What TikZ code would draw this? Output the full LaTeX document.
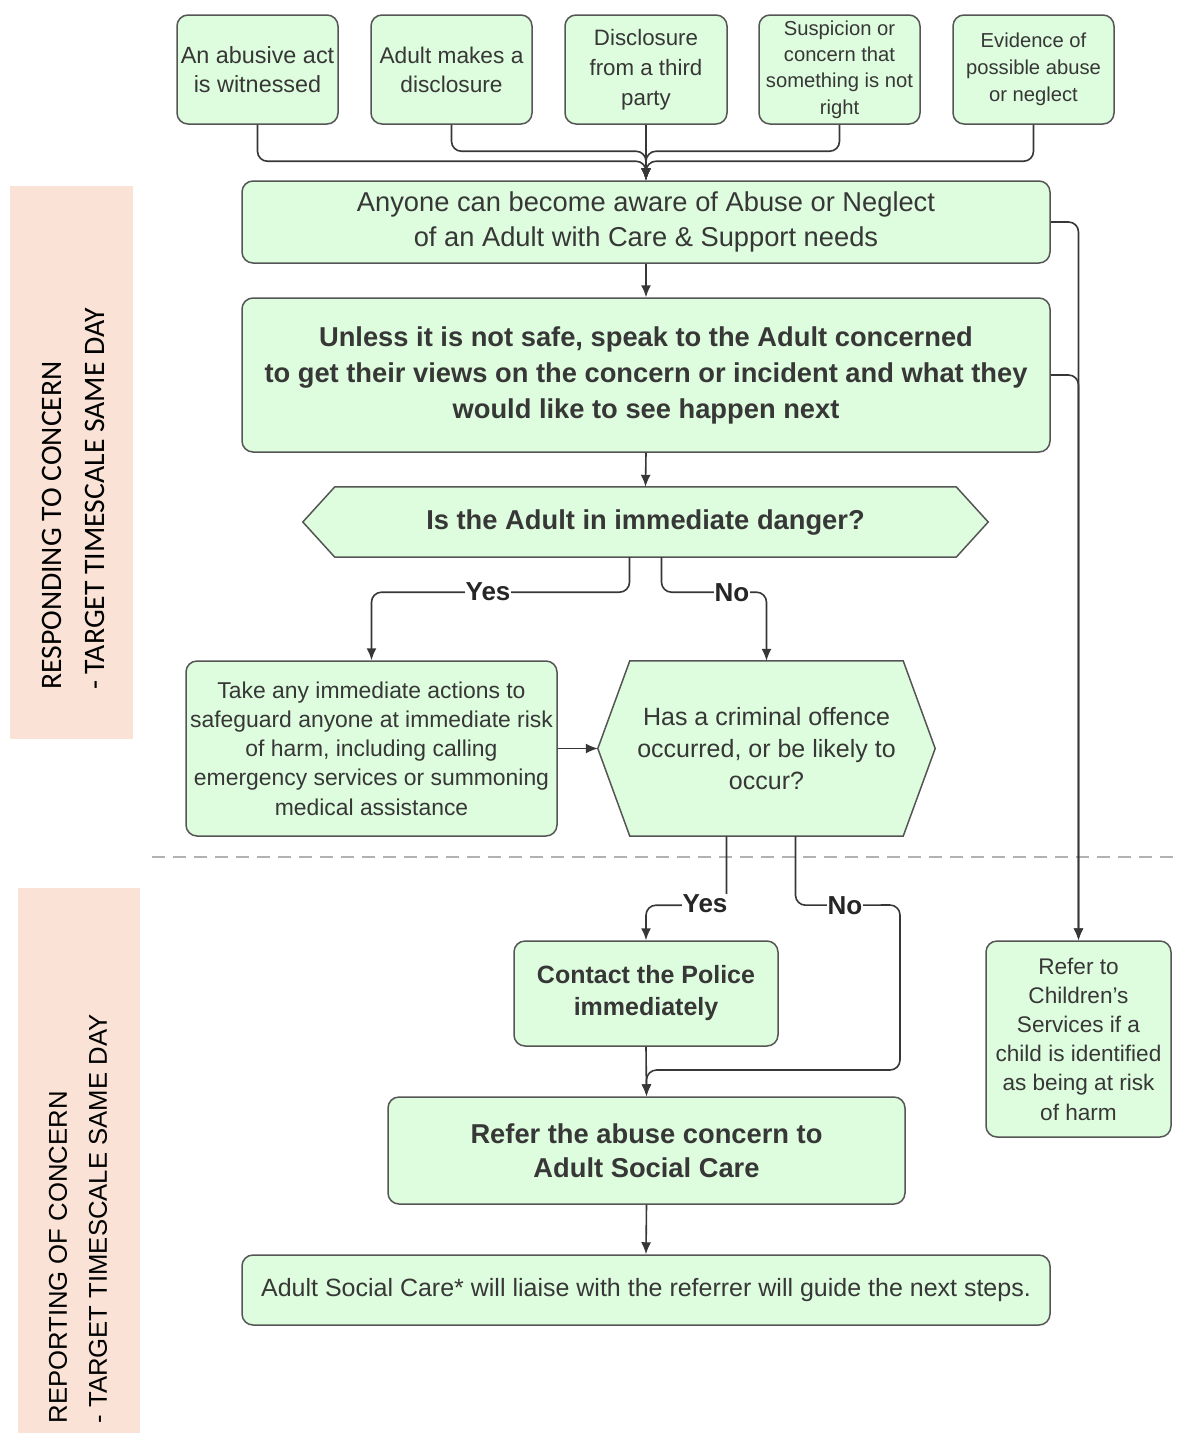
\documentclass[tikz,border=0pt]{standalone}
\usepackage{fontspec}
\setmainfont{Liberation Sans}
\newfontfamily\bandfontA{Carlito}
\usetikzlibrary{arrows.meta,backgrounds,calc}
\newcommand\myfs[2]{\fontsize{#1}{#2}\selectfont}
\definecolor{boxfill}{RGB}{222,252,222}
\definecolor{boxline}{RGB}{85,85,85}
\definecolor{conncol}{RGB}{55,55,55}
\definecolor{bandcol}{RGB}{250,227,214}
\definecolor{txtcol}{RGB}{55,55,55}
\tikzset{
  box/.style={draw=boxline, fill=boxfill, line width=1.5pt, rounded corners=11pt,
    align=center, inner sep=0pt, text=txtcol},
  hexbox/.style={draw=none, align=center, inner sep=0pt, text=txtcol},
  hexshape/.style={draw=boxline, fill=boxfill, line width=1.5pt},
  conn/.style={draw=conncol, line width=1.6pt, rounded corners=10pt},
  arr/.style={conn, -{Latex[length=12pt,width=10pt]}},
  lbl/.style={fill=white, inner sep=1pt, font=\bfseries\myfs{26}{30}, text=black!85},
  band/.style={fill=bandcol, draw=none},
}
\begin{document}
\begin{tikzpicture}[x=1pt,y=-1pt]
\useasboundingbox (0,0) rectangle (1177,1433);

% bands
\fill[band] (10,186) rectangle (133,739);
\fill[band] (18,888) rectangle (140,1433);
\node[rotate=90, align=left, inner sep=0pt, font=\bandfontA\myfs{29.7}{43}] (band1) at (73,499)
  {RESPONDING TO CONCERN\\ - TARGET TIMESCALE SAME DAY};
\node[rotate=90, align=left, inner sep=0pt, font=\myfs{25.7}{40}] (band2) at (78,1219)
  {REPORTING OF CONCERN\\ - TARGET TIMESCALE SAME DAY};

% dashed separator
\coordinate (dashL) at (152,857);
\coordinate (dashR) at (1177,857);
\draw[draw=black!30, line width=1.5pt, dash pattern=on 13pt off 8pt] (dashL) -- (dashR);

% top boxes
\node[box, minimum width=161pt, minimum height=109pt, font=\myfs{23.4}{29}] (b1) at (257.5,69.5) {An abusive act\\is witnessed};
\node[box, minimum width=161pt, minimum height=109pt, font=\myfs{22.7}{29}] (b2) at (451.5,69.5) {Adult makes a\\disclosure};
\node[box, minimum width=162pt, minimum height=109pt, font=\myfs{22.3}{30}] (b3) at (646,69.5) {Disclosure\\from a third\\party};
\node[box, minimum width=161pt, minimum height=109pt, font=\myfs{20.2}{26.3}] (b4) at (839.5,69.5) {Suspicion or\\concern that\\something is not\\right};
\node[box, minimum width=161pt, minimum height=109pt, font=\myfs{20.2}{27}] (b5) at (1033.5,69.5) {Evidence of\\possible abuse\\or neglect};

% main boxes
\node[box, minimum width=808pt, minimum height=82pt, font=\myfs{27.3}{35}] (anyone) at (646,222)
  {Anyone can become aware of Abuse or Neglect\\of an Adult with Care \& Support needs};
\node[box, minimum width=808pt, minimum height=154pt, font=\bfseries\myfs{27.3}{36}] (unless) at (646,375)
  {Unless it is not safe, speak to the Adult concerned\\to get their views on the concern or incident and what they\\would like to see happen next};
\node[hexbox, minimum width=685pt, minimum height=70pt, font=\bfseries\myfs{27.3}{34}] (danger) at (645.5,522)
  {Is the Adult in immediate danger?};
\node[box, minimum width=371pt, minimum height=175pt, font=\myfs{22.9}{29.3}] (take) at (371.5,748.5)
  {Take any immediate actions to\\safeguard anyone at immediate risk\\of harm, including calling\\emergency services or summoning\\medical assistance};
\node[hexbox, minimum width=337pt, minimum height=175pt, font=\myfs{25}{32}] (crim) at (766.5,748.5)
  {Has a criminal offence\\occurred, or be likely to\\occur?};
\node[box, minimum width=264pt, minimum height=105pt, font=\bfseries\myfs{25}{32}] (police) at (646,993.5)
  {Contact the Police\\immediately};
\node[box, minimum width=517pt, minimum height=107pt, font=\bfseries\myfs{27.3}{34}] (refer) at (646.5,1150.5)
  {Refer the abuse concern to\\Adult Social Care};
\node[box, minimum width=808pt, minimum height=70pt, font=\myfs{25}{30}] (last) at (646,1290)
  {Adult Social Care* will liaise with the referrer will guide the next steps.};
\node[box, minimum width=185pt, minimum height=196pt, font=\myfs{22.6}{29.2}] (children) at (1078.5,1039)
  {Refer to\\Children's\\Services if a\\child is identified\\as being at risk\\of harm};

% hexagon outlines
\begin{scope}[on background layer]
\draw[hexshape] (danger.west) -- ([xshift=32pt]danger.north west) -- ([xshift=-32pt]danger.north east)
  -- (danger.east) -- ([xshift=-32pt]danger.south east) -- ([xshift=32pt]danger.south west) -- cycle;
\draw[hexshape] (crim.west) -- ([xshift=32pt]crim.north west) -- ([xshift=-32pt]crim.north east)
  -- (crim.east) -- ([xshift=-32pt]crim.south east) -- ([xshift=32pt]crim.south west) -- cycle;
\end{scope}

% top connectors
\coordinate (jA) at ($(anyone.north)+(0,-19)$);
\coordinate (jB) at ($(anyone.north)+(0,-29)$);
\draw[arr] (b1.south) |- (jA) -- (anyone.north);
\draw[arr] (b5.south) |- (jA) -- (anyone.north);
\draw[arr] (b2.south) |- (jB) -- (anyone.north);
\draw[arr] (b4.south) |- (jB) -- (anyone.north);
\draw[arr] (b3.south) -- (anyone.north);

% main flow
\draw[arr] (anyone.south) -- (unless.north);
\draw[arr] (unless.south) -- (danger.north);
\draw[arr] (anyone.east) -| (children.north);
\draw[arr] (unless.east) -| (children.north);

% danger branches
\draw[arr] ([xshift=-16pt]danger.south) -- ++(0,35) -| (take.north);
\draw[arr] ([xshift=16pt]danger.south) -- ++(0,35) -| (crim.north);
\node[lbl] (yes1) at (488,592) {Yes};
\node[lbl] (no1) at (732,593) {No};

\draw[arr] (take.east) -- (crim.west);

% criminal branches
\draw[arr] ([xshift=-40pt]crim.south) -- ++(0,69) -| (police.north);
\draw[arr] ([xshift=29pt]crim.south) -- ++(0,69) -- (900,905) -- (900,1070) -| (refer.north);
\node[lbl] (yes2) at (705,904) {Yes};
\node[lbl] (no2) at (845,906) {No};

\draw[arr] (police.south) -- (refer.north);
\draw[arr] (refer.south) -- (last.north);
\end{tikzpicture}
\end{document}
